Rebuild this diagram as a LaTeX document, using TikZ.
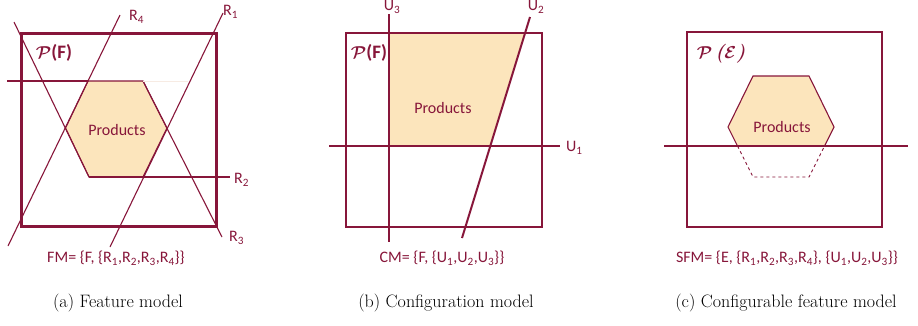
\documentclass[tikz,border=0pt]{standalone}
\usepackage{fontspec}
\setsansfont{Carlito}
\usepackage{bm}
\usepackage{xcolor}
\usetikzlibrary{positioning}

\definecolor{wine}{RGB}{135,22,58}
\definecolor{peach}{RGB}{252,229,188}

\begin{document}
\begin{tikzpicture}[
      x=1pt, y=-1pt,
      lbl/.style={text=wine, font=\sffamily\fontsize{16}{18}\selectfont, inner sep=0pt},
      sign/.style={text=wine, font=\sffamily\bfseries\fontsize{19}{21}\selectfont, inner sep=0pt},
      subcap/.style={font=\fontsize{18}{21}\selectfont, inner sep=0pt},
      cut/.style={draw=wine, line width=1.1pt},
      heavy/.style={draw=wine, line width=2pt},
      prod/.style={fill=peach, draw=wine, line width=1.1pt},
      hidden/.style={draw=wine, line width=0.9pt, dashed}
    ]
    \useasboundingbox (0,0) rectangle (918,325);

    % (a) feature model
    \draw[draw=wine, line width=3pt] (21,33) rectangle (216,226);
    \draw[prod] (88,81) -- (143,81) -- (167,128) -- (143,177) -- (89,177) -- (65.5,128) -- cycle;
    \node[lbl] (proda) at (117,130) {Products};
    \node[sign] (pa) at (54,53) {$\bm{\mathcal{P}}$(F)};

    \coordinate (r4a) at (120,15);  \coordinate (r4b) at (8,246);
    \coordinate (r1a) at (223,13);  \coordinate (r1b) at (110,247);
    \coordinate (r3a) at (14,22);   \coordinate (r3b) at (89,177);
    \coordinate (r3c) at (143,81);  \coordinate (r3d) at (222,237);
    \coordinate (r2a) at (7,81);    \coordinate (r2b) at (88,81);
    \coordinate (r2c) at (143,81);  \coordinate (r2d) at (188,81);
    \coordinate (r2e) at (89,177);  \coordinate (r2f) at (230,177);

    \draw[cut] (r4a) -- (r4b);
    \draw[cut] (r1a) -- (r1b);
    \draw[cut] (r3a) -- (r3b);
    \draw[cut] (r3c) -- (r3d);
    \draw[cut] (r2a) -- (r2b);
    \draw[peach!80!wine!30, line width=0.8pt] (r2c) -- (r2d);
    \draw[cut] (r2e) -- (r2f);

    \node[lbl, anchor=west] (r4) at (129,17) {R\textsubscript{4}};
    \node[lbl, anchor=west] (r1) at (223,12) {R\textsubscript{1}};
    \node[lbl, anchor=west] (r2) at (234,180) {R\textsubscript{2}};
    \node[lbl, anchor=west] (r3) at (229,238) {R\textsubscript{3}};
    \node[lbl] (fm) at (116,258) {FM= \{F, \{R\textsubscript{1},R\textsubscript{2},R\textsubscript{3},R\textsubscript{4}\}\}};
    \node[subcap] (capa) at (118,303) {(a) Feature model};

    % (b) configuration model
    \fill[peach] (390,33) -- (525,33) -- (490,146) -- (390,146) -- cycle;
    \draw[heavy] (346,33) rectangle (542,227);
    \node[lbl] (prodb) at (443,108) {Products};
    \node[sign] (pb) at (369,53) {$\bm{\mathcal{P}}$(F)};

    \coordinate (u1a) at (329,146); \coordinate (u1b) at (560,146);
    \coordinate (u2a) at (462,238); \coordinate (u2b) at (530,17);
    \coordinate (u3a) at (389,14);  \coordinate (u3b) at (389,242);

    \draw[heavy] (u1a) -- (u1b);
    \draw[heavy] (u2a) -- (u2b);
    \draw[heavy] (u3a) -- (u3b);

    \node[lbl, anchor=west] (u1) at (566,148) {U\textsubscript{1}};
    \node[lbl] (u2) at (536,7) {U\textsubscript{2}};
    \node[lbl] (u3) at (392,7) {U\textsubscript{3}};
    \node[lbl] (cm) at (442,258) {CM= \{F, \{U\textsubscript{1},U\textsubscript{2},U\textsubscript{3}\}\}};
    \node[subcap] (capb) at (446,303) {(b) Configuration model};

    % (c) configurable feature model
    \draw[draw=wine, line width=1.1pt] (687,32) rectangle (882,227);
    \draw[prod] (737.5,146) -- (728,127) -- (753,76) -- (809,76) -- (834,127) -- (824.5,146);
    \draw[hidden] (737.5,146) -- (753,177) -- (809,177) -- (824.5,146);
    \node[lbl] (prodc) at (782,127) {Products};
    \node[sign] (pc) at (721,54) {$\bm{\mathcal{P}}$\,{\rmfamily\itshape(}$\bm{\mathcal{E}}${\rmfamily\itshape)}};

    \coordinate (cuta) at (664,146); \coordinate (cutb) at (908,146);
    \draw[heavy] (cuta) -- (cutb);

    \node[lbl] (sfm) at (787,258) {SFM= \{E, \{R\textsubscript{1},R\textsubscript{2},R\textsubscript{3},R\textsubscript{4}\}, \{U\textsubscript{1},U\textsubscript{2},U\textsubscript{3}\}\}};
    \node[subcap] (capc) at (786,303) {(c) Configurable feature model};
  \end{tikzpicture}
\end{document}
